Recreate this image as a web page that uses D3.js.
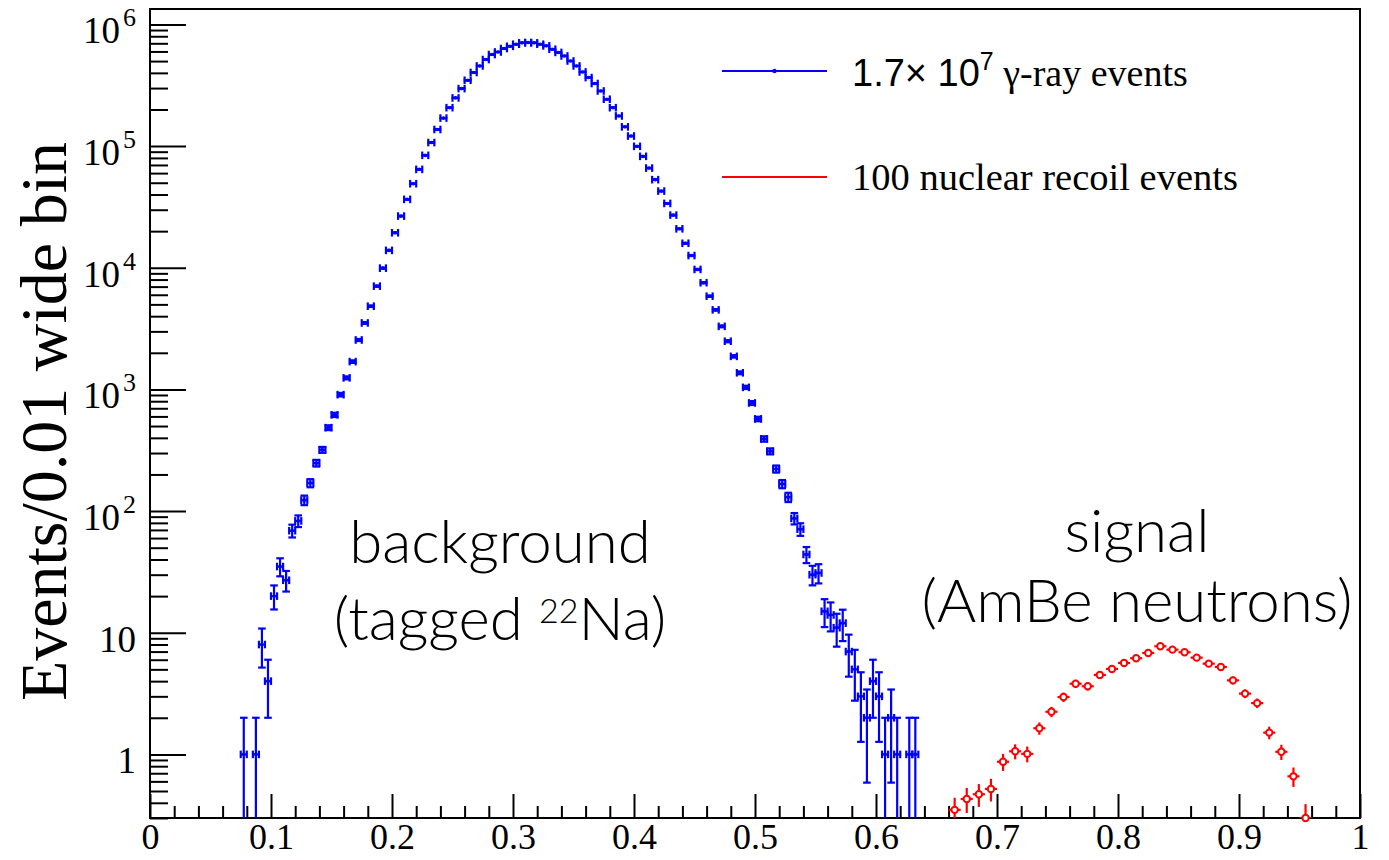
<!DOCTYPE html>
<html>
<head>
<meta charset="utf-8">
<script src="https://cdn.jsdelivr.net/npm/d3@7"></script>
<style>
  body { margin: 0; background: #fff; }
  text { fill: #000; }
</style>
</head>
<body>
<div id="chart"></div>
<script>
const BLUE = "#0000ff";
const RED = "#ff0000";

// tagged 22Na gamma-ray events, 0.005 wide bins, first bin starts at 0.075
const gammaBinStart = 0.075;
const gammaBinWidth = 0.005;
const gammaCounts = [
  1, 0, 1, 8, 4, 20, 35, 27, 69, 83,
  123, 170, 248, 319, 485, 618, 906, 1245, 1693, 2550,
  3520, 4830, 7060, 9930, 13900, 19400, 26600, 36500, 49100, 64400,
  84000, 107000, 137000, 170000, 207000, 249000, 297000, 348000, 403000, 456000,
  515000, 566000, 594000, 634000, 662000, 688000, 706000, 711000, 706000, 688000,
  667000, 626000, 589000, 551000, 501000, 456000, 407000, 366000, 327000, 284000,
  243000, 207000, 177000, 144000, 121000, 99600, 82400, 66000, 53000, 42700,
  33800, 27100, 20900, 15900, 12600, 9690, 7530, 5840, 4510, 3300,
  2490, 1870, 1370, 1040, 774, 572, 392, 310, 222, 167,
  130, 87, 71, 44, 30, 31, 15, 14, 11, 12,
  7, 5, 3, 2, 4, 3, 1, 2, 1, 0,
  1, 1
];

// AmBe nuclear recoils, scaled to 100 events, 0.01 wide bins
const recoilX = [
  0.665, 0.675, 0.685, 0.695, 0.705, 0.715, 0.725, 0.735, 0.745, 0.755,
  0.765, 0.775, 0.785, 0.795, 0.805, 0.815, 0.825, 0.835, 0.845, 0.855,
  0.865, 0.875, 0.885, 0.895, 0.905, 0.915, 0.925, 0.935, 0.945, 0.955
];
const recoilY = [
  0.35, 0.43, 0.47, 0.52, 0.87, 1.06, 1.01, 1.64, 2.24, 2.96,
  3.81, 3.63, 4.5, 5.04, 5.64, 6.17, 6.82, 7.74, 7.26, 6.91,
  6.24, 5.57, 5.23, 4.06, 3.16, 2.64, 1.51, 1.05, 0.66, 0.30
];
const recoilErr = [
  0.09, 0.10, 0.10, 0.11, 0.14, 0.15, 0.15, 0.19, 0.22, 0.26,
  0.29, 0.28, 0.32, 0.33, 0.35, 0.37, 0.39, 0.41, 0.40, 0.39,
  0.37, 0.35, 0.34, 0.30, 0.26, 0.24, 0.18, 0.15, 0.12, 0.09
];

const xTicks = [0, 0.1, 0.2, 0.3, 0.4, 0.5, 0.6, 0.7, 0.8, 0.9, 1];
const xTickLabels = ["0", "0.1", "0.2", "0.3", "0.4", "0.5", "0.6", "0.7", "0.8", "0.9", "1"];
const yTicks = [1, 10, 100, 1000, 10000, 100000, 1000000];
const yTickBase = ["1", "10", "10", "10", "10", "10", "10"];
const yTickExp = ["", "", "2", "3", "4", "5", "6"];

const width = 1389, height = 860;
const padL = 150, padR = 1360, padT = 9, padB = 818;

const x = d3.scaleLinear().domain([0, 1]).range([padL, padR]);
const y = d3.scaleLog().domain([0.3, 1.34e6]).range([padB, padT]);

const svg = d3.select("#chart").append("svg")
  .attr("width", width)
  .attr("height", height);

svg.append("defs").append("clipPath").attr("id", "frame")
  .append("rect")
  .attr("x", padL).attr("y", padT)
  .attr("width", padR - padL).attr("height", padB - padT);

// ---- axes ----
const serif = "'Liberation Serif', 'Times New Roman', serif";

let xMinor = d3.range(0, 51).map(i => i / 50).filter((v, i) => i % 5 != 0);
let xAxis = d3.axisBottom(x).tickValues(xTicks).tickFormat((d, i) => xTickLabels[i])
  .tickSizeInner(-24).tickSizeOuter(0);
let gx = svg.append("g").attr("transform", `translate(0,${padB})`).call(xAxis);
gx.select(".domain").remove();
gx.selectAll("line").attr("stroke", "#000").attr("stroke-width", 2);
gx.selectAll("text").attr("font-family", serif).attr("font-size", 36)
  .attr("dy", 0).attr("y", 31).attr("fill", "#000");
svg.append("g").attr("transform", `translate(0,${padB})`)
  .call(d3.axisBottom(x).tickValues(xMinor).tickFormat("").tickSizeInner(-12).tickSizeOuter(0))
  .call(g => g.select(".domain").remove())
  .selectAll("line").attr("stroke", "#000").attr("stroke-width", 2);

let yMinor = [];
for (let e = -1; e <= 6; e++) {
  for (let k = 2; k <= 9; k++) {
    let v = k * Math.pow(10, e);
    if (v >= 0.3 && v <= 1.34e6) yMinor.push(v);
  }
}
svg.append("g").attr("transform", `translate(${padL},0)`)
  .call(d3.axisLeft(y).tickValues(yTicks).tickFormat("").tickSizeInner(-36).tickSizeOuter(0))
  .call(g => g.select(".domain").remove())
  .selectAll("line").attr("stroke", "#000").attr("stroke-width", 2);
svg.append("g").attr("transform", `translate(${padL},0)`)
  .call(d3.axisLeft(y).tickValues(yMinor).tickFormat("").tickSizeInner(-18).tickSizeOuter(0))
  .call(g => g.select(".domain").remove())
  .selectAll("line").attr("stroke", "#000").attr("stroke-width", 2);

// y tick labels with exponents
let ylab = svg.append("g").selectAll("text")
  .data(yTicks)
  .join("text")
  .attr("x", 136)
  .attr("y", d => y(d) + 19)
  .attr("text-anchor", "end")
  .attr("font-family", serif)
  .attr("font-size", 37);
ylab.append("tspan").text((d, i) => yTickBase[i]);
ylab.filter((d, i) => yTickExp[i] != "")
  .append("tspan")
  .attr("dx", 3)
  .attr("dy", -17)
  .attr("font-size", 26)
  .text(d => yTickExp[yTicks.indexOf(d)]);

// frame
svg.append("rect")
  .attr("x", padL).attr("y", padT)
  .attr("width", padR - padL).attr("height", padB - padT)
  .attr("fill", "none").attr("stroke", "#000").attr("stroke-width", 2);

// y title
svg.append("text")
  .attr("transform", "translate(66,142) rotate(-90)")
  .attr("text-anchor", "end")
  .attr("font-family", serif)
  .attr("font-size", 66)
  .text("Events/0.01 wide bin");

// ---- gamma-ray histogram (blue) ----
let gammaData = gammaCounts
  .map((c, i) => ({ c: c, xc: gammaBinStart + gammaBinWidth * (i + 0.5) }))
  .filter(d => d.c > 0);

let gb = svg.append("g").attr("clip-path", "url(#frame)")
  .attr("stroke", BLUE).attr("stroke-width", 2.2).attr("fill", "none");
const cap = 3.8;

gammaData.forEach(d => {
  let px = x(d.xc), py = y(d.c);
  let xl = x(d.xc - gammaBinWidth / 2), xr = x(d.xc + gammaBinWidth / 2);
  let err = Math.sqrt(d.c); // Poisson error of the count
  let yHi = y(d.c + err);
  let yLo = d.c - err > 0 ? y(d.c - err) : padB + 5;
  gb.append("line").attr("x1", xl).attr("x2", xr).attr("y1", py).attr("y2", py);
  gb.append("line").attr("x1", xl).attr("x2", xl).attr("y1", py - cap).attr("y2", py + cap);
  gb.append("line").attr("x1", xr).attr("x2", xr).attr("y1", py - cap).attr("y2", py + cap);
  gb.append("line").attr("x1", px).attr("x2", px).attr("y1", yHi).attr("y2", yLo);
  gb.append("line").attr("x1", px - cap).attr("x2", px + cap).attr("y1", yHi).attr("y2", yHi);
  if (d.c - err > 0)
    gb.append("line").attr("x1", px - cap).attr("x2", px + cap).attr("y1", yLo).attr("y2", yLo);
  gb.append("circle").attr("cx", px).attr("cy", py).attr("r", 1.8)
    .attr("fill", BLUE).attr("stroke", "none");
});

// ---- nuclear recoils (red) ----
let rb = svg.append("g").attr("clip-path", "url(#frame)")
  .attr("stroke", RED).attr("stroke-width", 2.2).attr("fill", "none");
const rr = 3.2;
recoilX.forEach((xc, i) => {
  let v = recoilY[i], e = recoilErr[i];
  let px = x(xc), py = y(v);
  let xl = x(xc - 0.005), xr = x(xc + 0.005);
  let yHi = y(v + e), yLo = y(Math.max(v - e, 0.01));
  rb.append("line").attr("x1", xl).attr("x2", px - rr).attr("y1", py).attr("y2", py);
  rb.append("line").attr("x1", px + rr).attr("x2", xr).attr("y1", py).attr("y2", py);
  if (py - yHi > rr)
    rb.append("line").attr("x1", px).attr("x2", px).attr("y1", yHi).attr("y2", py - rr);
  if (yLo - py > rr)
    rb.append("line").attr("x1", px).attr("x2", px).attr("y1", py + rr).attr("y2", yLo);
});
svg.append("g").selectAll("circle")
  .data(recoilX)
  .join("circle")
  .attr("cx", d => x(d))
  .attr("cy", (d, i) => y(recoilY[i]))
  .attr("r", rr)
  .attr("fill", "#fff")
  .attr("stroke", RED)
  .attr("stroke-width", 2);

// ---- legend ----
const sans = "'Liberation Sans', Arial, sans-serif";
let lg = svg.append("g");
lg.append("line").attr("x1", 722).attr("x2", 827).attr("y1", 71).attr("y2", 71)
  .attr("stroke", BLUE).attr("stroke-width", 2.2);
lg.append("circle").attr("cx", 774.5).attr("cy", 71).attr("r", 2.2).attr("fill", BLUE);
let t1 = lg.append("text").attr("x", 852).attr("y", 86).attr("font-size", 38);
t1.append("tspan").attr("font-family", sans).text("1.7\u00d7 10");
t1.append("tspan").attr("font-family", sans).attr("font-size", 25).attr("dy", -16).text("7");
t1.append("tspan").attr("font-family", serif).attr("dy", 16).text(" \u03b3-ray events");

lg.append("line").attr("x1", 722).attr("x2", 827).attr("y1", 177).attr("y2", 177)
  .attr("stroke", RED).attr("stroke-width", 2.2);
lg.append("text").attr("x", 852).attr("y", 190).attr("font-size", 38.5)
  .attr("font-family", serif).text("100 nuclear recoil events");

// ---- annotations ----
const ann = "Lato, 'Open Sans', sans-serif";
svg.append("text").attr("x", 500).attr("y", 563).attr("text-anchor", "middle")
  .attr("font-family", ann).attr("font-weight", 300).attr("font-size", 60).text("background");
let tg = svg.append("text").attr("x", 500).attr("y", 640).attr("text-anchor", "middle")
  .attr("font-family", ann).attr("font-weight", 300).attr("font-size", 60);
tg.append("tspan").text("(tagged ");
tg.append("tspan").attr("font-size", 34).attr("dy", -17).text("22");
tg.append("tspan").attr("dy", 17).text("Na)");

svg.append("text").attr("x", 1137).attr("y", 552).attr("text-anchor", "middle")
  .attr("font-family", ann).attr("font-weight", 300).attr("font-size", 60).text("signal");
svg.append("text").attr("x", 1137).attr("y", 622).attr("text-anchor", "middle")
  .attr("font-family", ann).attr("font-weight", 300).attr("font-size", 60).text("(AmBe neutrons)");
</script>
</body>
</html>
